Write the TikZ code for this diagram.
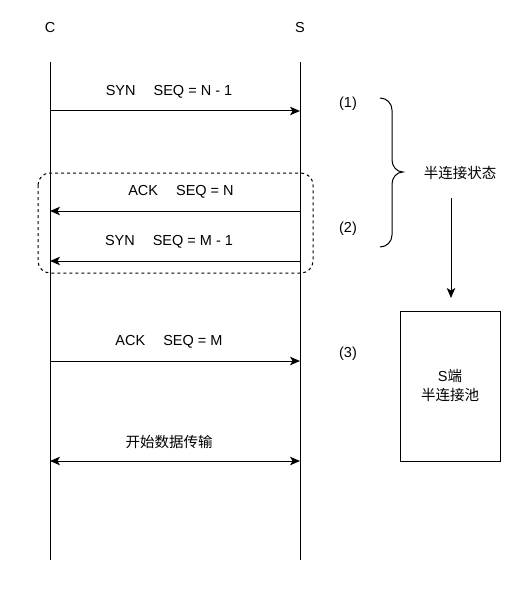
\documentclass[tikz,border=0pt]{standalone}
\usepackage{fontspec}
\setmainfont{Liberation Sans}
\newfontfamily\cjk{Noto Sans CJK SC}
\usetikzlibrary{arrows.meta}

\tikzset{
  lifeline/.style={
    line width=1pt
  },
  msg/.style={
    line width=1pt,
    -{Stealth[length=10pt,width=8.5pt,inset=2.5pt]}
  },
  both/.style={
    line width=1pt,
    {Stealth[length=10pt,width=8.5pt,inset=2.5pt]}-{Stealth[length=10pt,width=8.5pt,inset=2.5pt]}
  },
  label/.style={
    font=\fontsize{14.5}{17}\selectfont,
    inner sep=0pt
  },
  poolbox/.style={
    draw,
    line width=1pt,
    minimum width=100pt,
    minimum height=150pt,
    align=center,
    font=\fontsize{14.5}{19}\selectfont
  }
}

\begin{document}
\begin{tikzpicture}[x=1pt,y=-1pt]
  \useasboundingbox (0,0) rectangle (528,591);

  \node[label] (c) at (50,28) {C};
  \node[label] (s) at (300,28) {S};

  \coordinate (ctop) at (50,62);
  \coordinate (cbot) at (50,560);
  \coordinate (stop) at (300,62);
  \coordinate (sbot) at (300,560);
  \draw[lifeline] (ctop) -- (cbot);
  \draw[lifeline] (stop) -- (sbot);

  \coordinate (c1) at (50,111);
  \coordinate (s1) at (300,111);
  \draw[msg] (c1) -- (s1);
  \node[label] (m1) at (169,92) {SYN\hspace{18pt}SEQ = N - 1};

  \coordinate (c2) at (50,211);
  \coordinate (s2) at (300,211);
  \draw[msg] (s2) -- (c2);
  \node[label] (m2) at (181,192) {ACK\hspace{18pt}SEQ = N};

  \coordinate (c3) at (50,261);
  \coordinate (s3) at (300,261);
  \draw[msg] (s3) -- (c3);
  \node[label] (m3) at (169,242) {SYN\hspace{18pt}SEQ = M - 1};

  \coordinate (c4) at (50,361);
  \coordinate (s4) at (300,361);
  \draw[msg] (c4) -- (s4);
  \node[label] (m4) at (169,342) {ACK\hspace{18pt}SEQ = M};

  \coordinate (c5) at (50,461);
  \coordinate (s5) at (300,461);
  \draw[both] (c5) -- (s5);
  \node[label] (m5) at (169,442) {\cjk 开始数据传输};

  \draw[dashed,line width=1pt,rounded corners=12pt] (38,173) rectangle (313,273);

  \node[label] (n1) at (348,104) {(1)};
  \node[label] (n2) at (348,229) {(2)};
  \node[label] (n3) at (348,354) {(3)};

  \coordinate (btop) at (380,98);
  \coordinate (btip) at (403,172);
  \coordinate (bbot) at (380,247);
  \draw[line width=1pt] (btop) to[out=0,in=90] (392,110) -- (392,160)
    to[out=-90,in=180] (btip) to[out=180,in=90] (392,184) -- (392,235)
    to[out=-90,in=0] (bbot);

  \node[label] (half) at (460,173) {\cjk 半连接状态};
  \node[poolbox] (pool) at (450,386) {S\cjk 端\\\cjk 半连接池};
  \coordinate (hbot) at (451,198);
  \coordinate (htip) at (451,298);
  \draw[msg] (hbot) -- (htip);
\end{tikzpicture}
\end{document}
